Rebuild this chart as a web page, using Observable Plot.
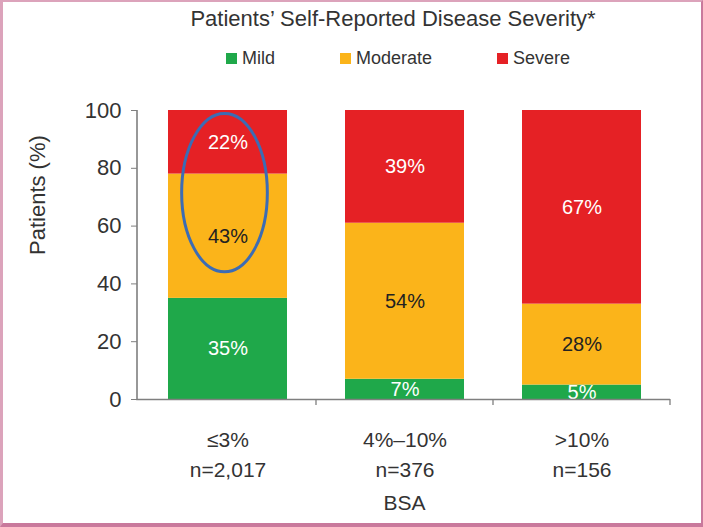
<!DOCTYPE html>
<html>
<head>
<meta charset="utf-8">
<script src="https://cdn.jsdelivr.net/npm/d3@7"></script>
<script src="https://cdn.jsdelivr.net/npm/@observablehq/plot@0.6"></script>
<style>
  html, body { margin: 0; padding: 0; background: #fff; }
  #wrap { position: relative; width: 703px; height: 527px; overflow: hidden; background: #fff;
          font-family: "Liberation Sans", Arial, sans-serif; color: #333; }
  #frame { position: absolute; left: 0; top: 0; width: 703px; height: 527px; box-sizing: border-box;
           border-left: 3px solid #dca3bb; border-top: 2px solid #dca3bb; border-right: 2px solid #c9799c;
           border-bottom: 4px solid #c9799c; pointer-events: none; }
  #title { position: absolute; left: 0; width: 786px; top: 6px; text-align: center; font-size: 22px; line-height: 26px; }
  #legend { position: absolute; left: 0; width: 796px; top: 47px; display: flex; justify-content: center; gap: 65px;
            font-size: 18px; line-height: 22px; }
  #legend .item { display: flex; align-items: center; gap: 5px; }
  #legend .sw { width: 11px; height: 11px; display: inline-block; }
  #chart { position: absolute; left: 0; top: 80px; }
</style>
</head>
<body>
<div id="wrap">
  <div id="title">Patients’ Self-Reported Disease Severity*</div>
  <div id="legend"></div>
  <div id="chart"></div>
  <div id="frame"></div>
</div>
<script>
// ---- data ----
const categories = ["≤3%", "4%–10%", ">10%"];
const sampleSizes = ["n=2,017", "n=376", "n=156"];
const severities = ["Mild", "Moderate", "Severe"];
const mildValues = [35, 7, 5];
const moderateValues = [43, 54, 28];
const severeValues = [22, 39, 67];
const severityColors = ["#1fa84a", "#fbb41a", "#e52125"];
const yTicks = [0, 20, 40, 60, 80, 100];
const xTitle = "BSA";
const yTitle = "Patients (%)";
// highlighted region (blue ellipse) on first category, in data units
const highlightCategory = "≤3%";
const highlightLow = 44;
const highlightHigh = 98.8;

// ---- build table ----
const seriesValues = [mildValues, moderateValues, severeValues];
const rows = [];
severities.forEach((s, si) => {
  categories.forEach((c, ci) => {
    rows.push({category: c, severity: s, value: seriesValues[si][ci]});
  });
});

// ---- legend ----
const legend = document.getElementById("legend");
severities.forEach((s, i) => {
  const it = document.createElement("span");
  it.className = "item";
  it.innerHTML = `<span class="sw" style="background:${severityColors[i]}"></span><span>${s}</span>`;
  legend.appendChild(it);
});

// custom mark: axis lines, boundary ticks and highlight ellipse
function axesAndHighlight(index, scales, values, dimensions) {
  const x = scales.x, y = scales.y;
  const left = x.range()[0];
  const bw = x.bandwidth();
  const step = x.step();
  const pad = (step - bw) / 2;
  const g = d3.create("svg:g");
  const y0 = y(0);
  const xEnd = x(categories[categories.length - 1]) + bw + pad;
  const axisColor = "#7f7f7f";
  // axis lines as one path (y axis then x axis)
  g.append("path")
    .attr("d", `M${left},${y(100)}V${y0 + 0.5}H${xEnd}`)
    .attr("fill", "none").attr("stroke", axisColor).attr("stroke-width", 1.6);
  // boundary ticks between categories
  categories.forEach(c => {
    const bx = x(c) + bw + pad;
    g.append("line").attr("x1", bx).attr("x2", bx).attr("y1", y0).attr("y2", y0 + 6)
      .attr("stroke", axisColor).attr("stroke-width", 1.3);
  });
  // highlight ellipse
  const cx = x(highlightCategory) + bw / 2 - 3;
  const cy = (y(highlightLow) + y(highlightHigh)) / 2;
  g.append("ellipse").attr("cx", cx).attr("cy", cy)
    .attr("rx", bw * 0.36).attr("ry", (y(highlightLow) - y(highlightHigh)) / 2)
    .attr("fill", "none").attr("stroke", "#3c6cb4").attr("stroke-width", 3);
  return g.node();
}

const labelFont = 20;
const stackOpts = {x: "category", y: "value", z: "severity", order: severities};
const plot = Plot.plot({
  width: 703,
  height: 440,
  marginLeft: 137,
  marginRight: 32,
  marginTop: 30,
  marginBottom: 121,
  style: {fontFamily: "'Liberation Sans', Arial, sans-serif", fontSize: "21px", color: "#333", background: "transparent", overflow: "visible"},
  x: {type: "band", domain: categories, paddingInner: 0.33, paddingOuter: 0.17, axis: null},
  y: {domain: [0, 100], axis: null},
  color: {domain: severities, range: severityColors},
  marks: [
    Plot.barY(rows, Plot.stackY({...stackOpts, fill: "severity"})),
    Plot.text(rows, Plot.stackY({...stackOpts,
      text: d => d.severity !== "Moderate" ? d.value + "%" : null, fill: "#ffffff", fontSize: labelFont})),
    Plot.text(rows, Plot.stackY({...stackOpts,
      text: d => d.severity === "Moderate" ? d.value + "%" : null, fill: "#222222", fontSize: labelFont})),
    Plot.axisY({ticks: yTicks, tickSize: 6, tickPadding: 10, fontSize: 22, label: null, stroke: "#7f7f7f", fill: "#333"}),
    Plot.text(categories, {x: d => d, text: (d, i) => d + "\n" + sampleSizes[i], frameAnchor: "bottom",
      lineAnchor: "top", dy: 27, lineHeight: 1.4, fontSize: 21, fill: "#333"}),
    Plot.text([xTitle], {frameAnchor: "bottom", dy: 110, fontSize: 21, fill: "#333"}),
    Plot.text([yTitle], {frameAnchor: "left", rotate: -90, dx: -100, fontSize: 22, fill: "#333"}),
    axesAndHighlight
  ]
});
document.getElementById("chart").appendChild(plot);
</script>
</body>
</html>
